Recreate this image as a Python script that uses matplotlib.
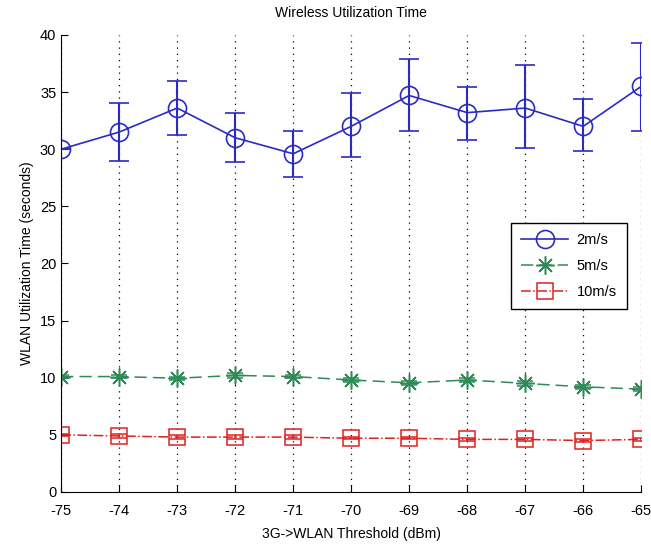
import numpy as np
import matplotlib
matplotlib.use("Agg")
import matplotlib.pyplot as plt
from matplotlib.lines import Line2D

plt.rcParams["font.family"] = ["Liberation Sans", "DejaVu Sans"]
plt.rcParams["axes.unicode_minus"] = False

thresholds = [-75, -74, -73, -72, -71, -70, -69, -68, -67, -66, -65]

# 2m/s with error bars (upper / lower)
speed2 = [30.0, 31.5, 33.6, 31.0, 29.6, 32.0, 34.7, 33.2, 33.6, 32.0, 35.5]
speed2_hi = [30.0, 34.0, 36.0, 33.2, 31.6, 34.9, 37.9, 35.4, 37.4, 34.4, 39.3]
speed2_lo = [30.0, 29.0, 31.2, 28.9, 27.6, 29.3, 31.6, 30.8, 30.1, 29.8, 31.6]

speed5 = [10.1, 10.1, 9.95, 10.2, 10.1, 9.8, 9.55, 9.8, 9.5, 9.2, 9.0]
speed5_err = [0.1, 0.1, 0.15, 0.2, 0.1, 0.15, 0.2, 0.2, 0.25, 0.2, 0.15]

speed10 = [5.0, 4.9, 4.8, 4.8, 4.8, 4.7, 4.7, 4.6, 4.6, 4.5, 4.6]
speed10_err = [0.1, 0.15, 0.15, 0.15, 0.15, 0.1, 0.1, 0.15, 0.15, 0.15, 0.1]

labels = ["2m/s", "5m/s", "10m/s"]

blue = "#2b2bc4"
green = "#2e8b57"
red = "#e02020"

fig = plt.figure(figsize=(6.51, 5.46), dpi=100)
ax = fig.add_axes([0.094, 0.099, 0.891, 0.837])

s2 = np.array(speed2)
err2 = [s2 - np.array(speed2_lo), np.array(speed2_hi) - s2]
ax.errorbar(thresholds, speed2, yerr=err2, color=blue, marker="o", ms=13,
            mfc="none", mew=1.2, lw=1.2, capsize=7, elinewidth=1.5,
            capthick=1.5)
ax.errorbar(thresholds, speed5, yerr=speed5_err, color=green, marker=(8, 2, 0),
            ms=13, mew=1.1, lw=1.1, ls="--", dashes=(8, 4), capsize=6)
ax.errorbar(thresholds, speed10, yerr=speed10_err, color=red, marker="s",
            ms=11, mfc="none", mew=1.1, lw=1.1, ls="-.", capsize=6)

ax.set_xlim(-75, -65)
ax.set_ylim(0, 40)
ax.set_xticks(thresholds)
ax.set_yticks(range(0, 41, 5))
ax.xaxis.grid(True, linestyle=(0, (1, 4)), color="black", lw=0.9)
ax.tick_params(direction="in", length=5, labelsize=10.5)
ax.tick_params(axis="x", pad=9)
for side in ["top", "right"]:
    ax.spines[side].set_visible(False)

ax.set_title("Wireless Utilization Time", fontsize=10, pad=13)
ax.set_xlabel("3G->WLAN Threshold (dBm)", fontsize=10, labelpad=6)
ax.set_ylabel("WLAN Utilization Time (seconds)", fontsize=10)

handles = [
    Line2D([], [], color=blue, marker="o", ms=13, mfc="none", mew=1.2, lw=1.2),
    Line2D([], [], color=green, marker=(8, 2, 0), ms=13, mew=1.1, lw=1.1,
           ls="--", dashes=(8, 4)),
    Line2D([], [], color=red, marker="s", ms=11, mfc="none", mew=1.1, lw=1.1,
           ls="-."),
]
leg = ax.legend(handles, labels, loc="upper right",
                bbox_to_anchor=(0.988, 0.604), fancybox=False,
                edgecolor="black", framealpha=1, fontsize=10.5,
                handlelength=3.2, borderpad=0.7, labelspacing=0.8,
                handletextpad=0.6)
leg.get_frame().set_linewidth(1.0)

fig.savefig("out.png", dpi=100)
